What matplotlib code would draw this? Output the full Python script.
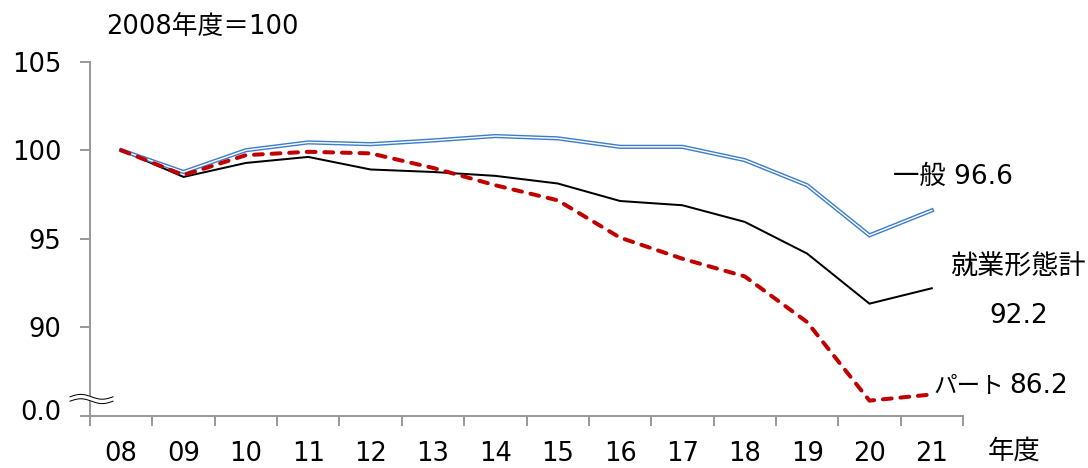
import matplotlib
matplotlib.use("Agg")
import matplotlib.pyplot as plt
import numpy as np
from matplotlib.lines import Line2D
from matplotlib.transforms import ScaledTranslation

plt.rcParams['font.family'] = ['DejaVu Sans', 'Noto Sans CJK JP']

years = ["08", "09", "10", "11", "12", "13", "14", "15", "16", "17", "18", "19", "20", "21"]
general = [100.0, 98.77, 100.0, 100.44, 100.34, 100.55, 100.8, 100.67, 100.19, 100.19, 99.44, 98.02, 95.19, 96.6]
total = [100.0, 98.49, 99.28, 99.62, 98.91, 98.77, 98.55, 98.12, 97.13, 96.89, 95.95, 94.16, 91.33, 92.2]
part = [100.0, 98.59, 99.72, 99.91, 99.82, 99.0, 98.02, 97.17, 95.06, 93.87, 92.87, 90.29, 85.85, 86.2]
yticks = [85, 90, 95, 100, 105]
yticklabels = ["0.0", "90", "95", "100", "105"]

W, H = 1088, 468
fig = plt.figure(figsize=(W / 100, H / 100), dpi=100)
L, R, T, B = 90, 963, 61.7, 415.7
ax = fig.add_axes([L / W, 1 - B / H, (R - L) / W, (B - T) / H])

x = np.arange(len(years))
px = 0.72  # points per pixel

ax.plot(x, total, color='black', lw=2 * px, zorder=3, solid_joinstyle='miter')
ax.plot(x, general, color='#3D7DC8', lw=4.2 * px, zorder=4, solid_joinstyle='miter')
ax.plot(x, general, color='white', lw=1.4 * px, zorder=5, solid_joinstyle='miter')
ax.plot(x, part, color='#C00000', lw=4 * px, zorder=6, dash_capstyle='round',
        linestyle=(0, (2.2, 2.2)))

ax.set_xlim(-0.5, len(years) - 0.5)
ax.set_ylim(85, 105)

grey = '#9A9A9A'
for s in ['top', 'right']:
    ax.spines[s].set_visible(False)
for s in ['left', 'bottom']:
    ax.spines[s].set_color(grey)
    ax.spines[s].set_linewidth(2 * px)

ax.set_yticks(yticks)
ax.set_yticklabels(yticklabels)
ax.tick_params(axis='y', length=10 * px, width=2 * px, color=grey, labelsize=18.5, pad=13.5)

ax.set_xticks(np.arange(-0.5, len(years), 1.0))
ax.set_xticklabels([])
ax.tick_params(axis='x', which='major', length=10 * px, width=2 * px, color=grey)
ax.set_xticks(x, minor=True)
ax.set_xticklabels(years, minor=True)
ax.tick_params(axis='x', which='minor', length=0, labelsize=18.5, pad=18)

# shift "0.0" label upward slightly
lab0 = ax.get_yticklabels()[0]
lab0.set_transform(lab0.get_transform() + ScaledTranslation(0, 6 / 100, fig.dpi_scale_trans))

# axis break symbol
bx = np.linspace(70, 113, 80)
wave = 3.0 * np.sin((bx - 70) / 43 * 2 * np.pi + np.pi)
for dy, c, lw in [(0, 'white', 5), (-2.2, 'black', 1), (2.2, 'black', 1)]:
    yy = 399 + wave * 0.8 + dy
    fig.add_artist(Line2D(bx / W, 1 - yy / H, transform=fig.transFigure, color=c, lw=lw * px, zorder=10))

fs = 19
fig.text(106 / W, 1 - 27 / H, "2008年度＝100", fontsize=18.5, va='center', ha='left')
fig.text(893 / W, 1 - 177 / H, "一般 96.6", fontsize=fs, va='center', ha='left')
fig.text(950 / W, 1 - 268 / H, "就業形態計", fontsize=19.5, va='center', ha='left')
fig.text(1019 / W, 1 - 316 / H, "92.2", fontsize=fs, va='center', ha='center')
fig.text(933 / W, 1 - 386 / H, "パート", fontsize=17, va='center', ha='left')
fig.text(1068 / W, 1 - 386 / H, "86.2", fontsize=fs, va='center', ha='right')
fig.text(988 / W, 1 - 452 / H, "年度", fontsize=fs, va='center', ha='left')

fig.savefig("out.png", dpi=100)
